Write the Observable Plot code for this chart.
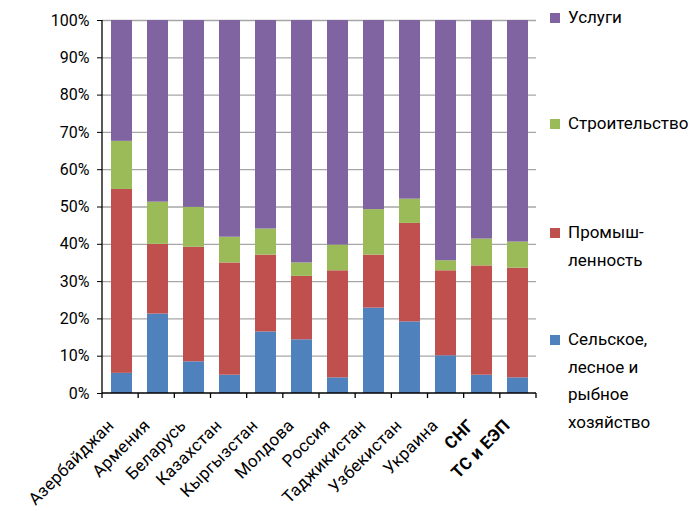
<!DOCTYPE html>
<html>
<head>
<meta charset="utf-8">
<script src="https://cdn.jsdelivr.net/npm/d3@7"></script>
<script src="https://cdn.jsdelivr.net/npm/@observablehq/plot@0.6"></script>
<style>
  html, body { margin: 0; padding: 0; background: #fff; }
  #wrap { position: relative; width: 692px; height: 511px; font-family: Roboto, "Noto Sans", sans-serif; }
  #wrap svg g[aria-label="text"] text { letter-spacing: 0.3px; }
  .leg { position: absolute; left: 550px; font-size: 17px; color: #000; line-height: 27.5px; }
  .leg .sw { position: absolute; left: 0; width: 10px; height: 10px; }
  .leg .tx { position: absolute; left: 18px; white-space: nowrap; }
</style>
</head>
<body>
<div id="wrap"></div>
<script>
const countries = ["Азербайджан","Армения","Беларусь","Казахстан","Кыргызстан","Молдова","Россия","Таджикистан","Узбекистан","Украина","СНГ","ТС и ЕЭП"];
const boldCountries = ["СНГ","ТС и ЕЭП"];
const series = ["Сельское, лесное и рыбное хозяйство","Промышленность","Строительство","Услуги"];
const agriculture  = [5.4, 21.3, 8.5, 4.9, 16.5, 14.4, 4.2, 22.9, 19.2, 10.1, 4.9, 4.2];
const industry     = [49.3, 18.7, 30.7, 30.1, 20.6, 17.0, 28.7, 14.2, 26.4, 22.8, 29.3, 29.4];
const construction = [12.9, 11.3, 10.7, 6.9, 7.0, 3.6, 6.9, 12.2, 6.5, 2.7, 7.2, 7.0];
const services     = [32.4, 48.7, 50.1, 58.1, 55.9, 65.0, 60.2, 50.7, 47.9, 64.4, 58.6, 59.4];
const colors = ["#4F81BD","#C0504D","#9BBB59","#8064A2"];
const yTicks = [0,10,20,30,40,50,60,70,80,90,100];

const seriesValues = [agriculture, industry, construction, services];
const rows = [];
countries.forEach((c, i) => {
  series.forEach((s, j) => rows.push({country: c, sector: s, value: seriesValues[j][i]}));
});

function axesMark(index, scales, values, dims) {
  const g = d3.create("svg:g").attr("stroke", "#000").attr("stroke-width", 1.3);
  const x0 = dims.marginLeft, x1 = dims.width - dims.marginRight;
  const yb = dims.height - dims.marginBottom, yt = dims.marginTop;
  g.append("line").attr("x1", x0).attr("x2", x0).attr("y1", yt).attr("y2", yb);
  g.append("line").attr("x1", x0).attr("x2", x1).attr("y1", yb).attr("y2", yb);
  const n = countries.length;
  for (let i = 0; i <= n; i++) {
    const xx = x0 + i * (x1 - x0) / n;
    g.append("line").attr("x1", xx).attr("x2", xx).attr("y1", yb).attr("y2", yb + 5);
  }
  return g.node();
}

const chart = Plot.plot({
  width: 692,
  height: 511,
  marginLeft: 102,
  marginRight: 156,
  marginTop: 20,
  marginBottom: 118,
  style: { fontFamily: "Roboto, 'Noto Sans', sans-serif", fontSize: "16px", color: "#000", background: "#fff" },
  x: { domain: countries, paddingInner: 0.42, paddingOuter: 0.21, axis: null },
  y: { domain: [0, 100], ticks: yTicks, tickFormat: d => d + "%", label: null, tickSize: 5, tickPadding: 8 },
  color: { domain: series, range: colors },
  marks: [
    Plot.ruleY(yTicks.filter(d => d > 0), { stroke: "#a6a6a6", strokeWidth: 1.3, strokeOpacity: 1 }),
    Plot.barY(rows, { x: "country", y: "value", fill: "sector", order: series }),
    axesMark,
    Plot.text(countries.filter(c => !boldCountries.includes(c)), {
      x: d => d, frameAnchor: "bottom", textAnchor: "end", rotate: -45, dy: 33, dx: -7, fontSize: 17, fill: "#000"
    }),
    Plot.text(boldCountries, {
      x: d => d, frameAnchor: "bottom", textAnchor: "end", rotate: -45, dy: 33, dx: -7, fontSize: 17, fontWeight: "bold", fill: "#000"
    })
  ]
});

const wrap = document.getElementById("wrap");
wrap.appendChild(chart);

const legendItems = [
  { label: ["Услуги"], color: colors[3], top: 12.5 },
  { label: ["Строительство"], color: colors[2], top: 119 },
  { label: ["Промыш-", "ленность"], color: colors[1], top: 228 },
  { label: ["Сельское,", "лесное и", "рыбное", "хозяйство"], color: colors[0], top: 335 }
];
legendItems.forEach(it => {
  const d = document.createElement("div");
  d.className = "leg";
  d.style.top = it.top + "px";
  const sw = document.createElement("div");
  sw.className = "sw";
  sw.style.background = it.color;
  d.appendChild(sw);
  const tx = document.createElement("div");
  tx.className = "tx";
  tx.style.top = "-9px";
  tx.innerHTML = it.label.join("<br>");
  d.appendChild(tx);
  wrap.appendChild(d);
});
</script>
</body>
</html>
